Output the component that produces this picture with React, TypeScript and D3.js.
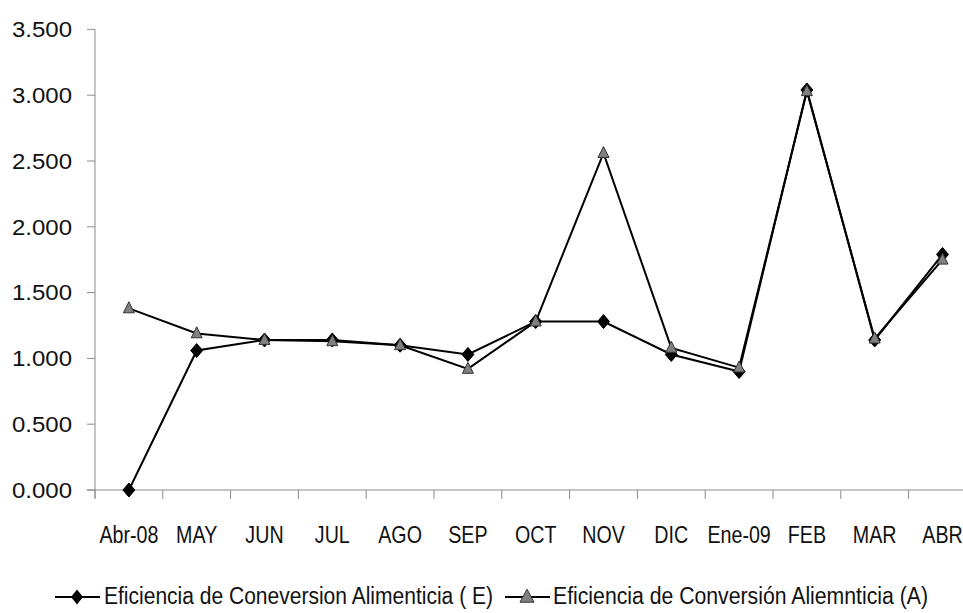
import React from "react";
import * as d3 from "d3";

const categories = ["Abr-08", "MAY", "JUN", "JUL", "AGO", "SEP", "OCT", "NOV", "DIC", "Ene-09", "FEB", "MAR", "ABR"];
const seriesE = [0.0, 1.06, 1.14, 1.14, 1.1, 1.03, 1.28, 1.28, 1.03, 0.9, 3.04, 1.14, 1.79];
const seriesA = [1.38, 1.19, 1.14, 1.13, 1.1, 0.92, 1.28, 2.56, 1.08, 0.93, 3.03, 1.15, 1.75];
const yTicks = [0, 0.5, 1.0, 1.5, 2.0, 2.5, 3.0, 3.5];
const legendLabels = ["Eficiencia de Coneversion Alimenticia ( E)", "Eficiencia de Conversión Aliemnticia (A)"];

const W = 963;
const H = 613;

export default function App() {
  const x = d3.scaleBand<string>().domain(categories).range([95, 95 + 13 * 67.8]);
  const y = d3.scaleLinear().domain([0, 3.5]).range([490, 29.4]);
  const cx = (c: string) => (x(c) as number) + x.bandwidth() / 2;
  const line = d3
    .line<number>()
    .x((_, i) => cx(categories[i]))
    .y((d) => y(d));
  const fmt = (v: number) => v.toFixed(3);
  const axisColor = "#8c8c8c";

  const diamond = (px: number, py: number, w = 6, h = 7) =>
    `M${px},${py - h}L${px + w},${py}L${px},${py + h}L${px - w},${py}Z`;
  const triangle = (px: number, py: number, w = 5.5, h = 11) =>
    `M${px},${py - h * 0.6}L${px + w},${py + h * 0.4}L${px - w},${py + h * 0.4}Z`;

  const boundaries = categories.map((c) => x(c) as number).concat([(x(categories[12]) as number) + x.bandwidth()]);

  const legendY = 597;

  return (
    <svg width={W} height={H} style={{ position: "absolute", left: 0, top: 0, background: "#fff" }}>
      <rect x={0} y={0} width={W} height={H} fill="#fff" />
      {/* y axis */}
      <line x1={95} x2={95} y1={y(3.5)} y2={498} stroke={axisColor} strokeWidth={1} />
      {yTicks.map((t) => (
        <g key={t}>
          <line x1={87} x2={95} y1={y(t)} y2={y(t)} stroke={axisColor} strokeWidth={1} />
          <text
            x={72}
            y={y(t)}
            dy="0.35em"
            textAnchor="end"
            fontFamily="'Liberation Sans', Arial, sans-serif"
            fontSize={22}
            fill="#111"
            textLength={60}
            lengthAdjust="spacingAndGlyphs"
          >
            {fmt(t)}
          </text>
        </g>
      ))}
      {/* x axis */}
      <line x1={87} x2={W} y1={y(0)} y2={y(0)} stroke={axisColor} strokeWidth={1} />
      {boundaries.map((b, i) => (
        <line key={i} x1={b} x2={b} y1={y(0)} y2={499} stroke={axisColor} strokeWidth={1} />
      ))}
      {categories.map((c) => (
        <text
          key={c}
          transform={`translate(${cx(c)},543) scale(0.82,1)`}
          textAnchor="middle"
          fontFamily="'Liberation Sans', Arial, sans-serif"
          fontSize={24}
          fill="#111"
        >
          {c}
        </text>
      ))}
      {/* lines */}
      <path d={line(seriesA) || ""} fill="none" stroke="#000" strokeWidth={2} />
      <path d={line(seriesE) || ""} fill="none" stroke="#000" strokeWidth={2} />
      {seriesE.map((v, i) => (
        <path key={"e" + i} d={diamond(cx(categories[i]), y(v))} fill="#000" stroke="#000" strokeWidth={1} />
      ))}
      {seriesA.map((v, i) => (
        <path key={"a" + i} d={triangle(cx(categories[i]), y(v))} fill="#808080" stroke="#333" strokeWidth={1} />
      ))}
      {/* legend */}
      <line x1={55} x2={100} y1={legendY} y2={legendY} stroke="#000" strokeWidth={2} />
      <path d={diamond(77, legendY, 6, 7.5)} fill="#000" />
      <text
        x={104}
        y={legendY + 7}
        fontFamily="'Liberation Sans', Arial, sans-serif"
        fontSize={23}
        fill="#111"
        textLength={389}
        lengthAdjust="spacingAndGlyphs"
      >
        {legendLabels[0]}
      </text>
      <line x1={505} x2={550} y1={legendY} y2={legendY} stroke="#000" strokeWidth={2} />
      <path d={triangle(527, legendY, 7, 13)} fill="#808080" stroke="#333" strokeWidth={1} />
      <text
        x={553}
        y={legendY + 7}
        fontFamily="'Liberation Sans', Arial, sans-serif"
        fontSize={23}
        fill="#111"
        textLength={375}
        lengthAdjust="spacingAndGlyphs"
      >
        {legendLabels[1]}
      </text>
    </svg>
  );
}
